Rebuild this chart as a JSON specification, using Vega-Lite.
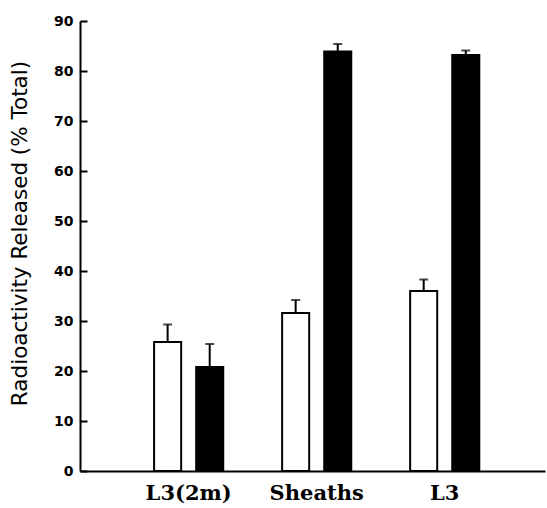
{
  "$schema": "https://vega.github.io/schema/vega-lite/v6.json",
  "autosize": {"type": "none"},
  "width": 465,
  "height": 450,
  "padding": {"left": 80, "top": 21, "right": 2, "bottom": 37},
  "background": "white",
  "config": {"view": {"stroke": null}},
  "data": {"values": [
    {"group": "L3(2m)", "type": "open", "value": 25.8, "upper": 29.3},
    {"group": "L3(2m)", "type": "filled", "value": 20.8, "upper": 25.4},
    {"group": "Sheaths", "type": "open", "value": 31.6, "upper": 34.2},
    {"group": "Sheaths", "type": "filled", "value": 83.9, "upper": 85.4},
    {"group": "L3", "type": "open", "value": 36.0, "upper": 38.3},
    {"group": "L3", "type": "filled", "value": 83.2, "upper": 84.1}
  ]},
  "encoding": {
    "x": {
      "field": "group", "type": "nominal", "sort": ["L3(2m)", "Sheaths", "L3"],
      "scale": {"paddingInner": 0.46, "paddingOuter": 0.546, "align": 0.53},
      "axis": {
        "title": null, "labelAngle": 0, "ticks": false,
        "domainColor": "black", "domainWidth": 2,
        "labelFont": "DejaVu Serif", "labelFontWeight": "bold", "labelFontSize": 21,
        "labelColor": "black", "labelPadding": 11
      }
    },
    "xOffset": {
      "field": "type", "type": "nominal", "sort": ["open", "filled"],
      "scale": {"paddingInner": 0.357, "paddingOuter": 0}
    }
  },
  "layer": [
    {
      "mark": {"type": "bar", "stroke": "black", "strokeWidth": 2},
      "encoding": {
        "y": {
          "field": "value", "type": "quantitative",
          "scale": {"domain": [0, 90], "nice": false},
          "axis": {
            "title": "Radioactivity Released (% Total)",
            "titleFont": "DejaVu Sans", "titleFontSize": 21.5, "titleFontWeight": "normal",
            "titleColor": "black", "titlePadding": 22, "titleY": 212,
            "values": [0, 10, 20, 30, 40, 50, 60, 70, 80, 90],
            "grid": false, "domainColor": "black", "domainWidth": 2,
            "tickColor": "black", "tickWidth": 2, "tickSize": -7,
            "labelFont": "DejaVu Sans", "labelFontWeight": "bold", "labelFontSize": 14,
            "labelColor": "black", "labelPadding": 14
          }
        },
        "fill": {
          "field": "type", "type": "nominal",
          "scale": {"domain": ["open", "filled"], "range": ["white", "black"]},
          "legend": null
        }
      }
    },
    {
      "mark": {"type": "rule", "color": "black", "strokeWidth": 2},
      "encoding": {
        "y": {"field": "value", "type": "quantitative"},
        "y2": {"field": "upper"}
      }
    },
    {
      "mark": {"type": "tick", "color": "black", "thickness": 2, "size": 9},
      "encoding": {
        "y": {"field": "upper", "type": "quantitative"}
      }
    }
  ]
}
